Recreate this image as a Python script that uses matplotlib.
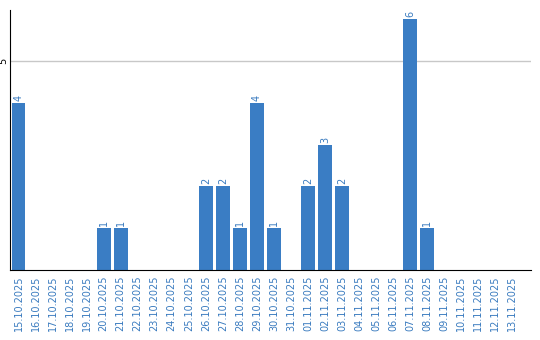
import matplotlib
matplotlib.use('Agg')
import matplotlib.pyplot as plt

# data
dates = ['15.10.2025', '16.10.2025', '17.10.2025', '18.10.2025', '19.10.2025',
         '20.10.2025', '21.10.2025', '22.10.2025', '23.10.2025', '24.10.2025',
         '25.10.2025', '26.10.2025', '27.10.2025', '28.10.2025', '29.10.2025',
         '30.10.2025', '31.10.2025', '01.11.2025', '02.11.2025', '03.11.2025',
         '04.11.2025', '05.11.2025', '06.11.2025', '07.11.2025', '08.11.2025',
         '09.11.2025', '10.11.2025', '11.11.2025', '12.11.2025', '13.11.2025']
counts = [4, 0, 0, 0, 0, 1, 1, 0, 0, 0, 0, 2, 2, 1, 4, 1, 0, 2, 3, 2,
          0, 0, 0, 6, 1, 0, 0, 0, 0, 0]

bar_color = '#3a7dc4'
label_color = '#3a7bbf'

fig = plt.figure(figsize=(5.4, 3.4), dpi=100)
ax = fig.add_axes([10 / 540, 70 / 340, 521 / 540, 260 / 340])

x = list(range(len(dates)))
ax.bar(x, counts, width=0.82, color=bar_color, zorder=2)

for i, v in enumerate(counts):
    if v > 0:
        ax.text(i, v + 0.05, str(v), rotation=90, ha='center', va='bottom',
                fontsize=7, color=label_color)

ax.set_xlim(-0.5, 30.1)
ax.set_ylim(0, 6.22)
ax.set_yticks([5])
ax.set_yticklabels(['5'], rotation=90, va='center', fontsize=7)
ax.tick_params(axis='y', length=0, pad=1)
ax.yaxis.grid(True, color='#c8c8c8', linewidth=1, zorder=0)

ax.set_xticks(x)
ax.set_xticklabels(dates, rotation=90, fontsize=7, color=label_color)
ax.tick_params(axis='x', length=0, pad=4)

for s in ['top', 'right']:
    ax.spines[s].set_visible(False)
ax.spines['left'].set_color('black')
ax.spines['bottom'].set_color('black')

fig.savefig('out.png', dpi=100)
